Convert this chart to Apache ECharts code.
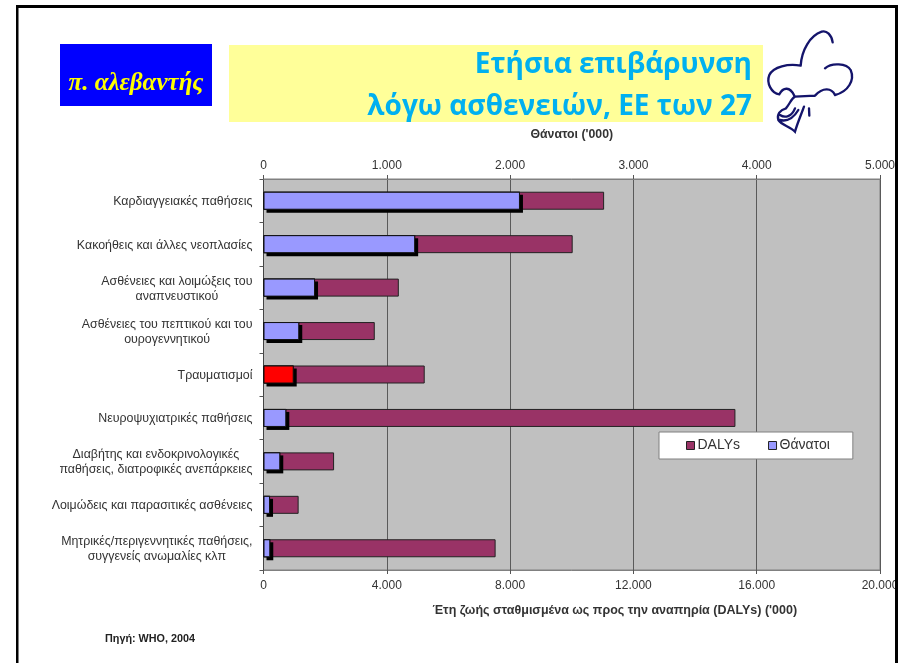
<!DOCTYPE html>
<html>
<head>
<meta charset="utf-8">
<style>html,body{margin:0;padding:0;background:#fff}#c{width:898px;height:663px}</style>
<script src="https://cdn.jsdelivr.net/npm/echarts@6/dist/echarts.min.js"></script>
</head>
<body>
<div id="c"></div>
<script>
const categories = [
  'Καρδιαγγειακές παθήσεις',
  'Κακοήθεις και άλλες νεοπλασίες',
  'Ασθένειες και λοιμώξεις του\nαναπνευστικού',
  'Ασθένειες του πεπτικού και του\nουρογεννητικού',
  'Τραυματισμοί',
  'Νευροψυχιατρικές παθήσεις',
  'Διαβήτης και ενδοκρινολογικές\nπαθήσεις, διατροφικές ανεπάρκειες',
  'Λοιμώδεις και παρασιτικές ασθένειες',
  'Μητρικές/περιγεννητικές παθήσεις,\nσυγγενείς ανωμαλίες κλπ'
];
const dalys = [11050, 10030, 4390, 3610, 5230, 15310, 2290, 1140, 7530];
const deaths = [2080, 1230, 418, 290, 245, 185, 136, 53, 55];
const highlighted = 'Τραυματισμοί';
const titleLines = ['Ετήσια επιβάρυνση', 'λόγω ασθενειών, ΕΕ των 27'];
const dalyName = 'DALYs';
const deathName = 'Θάνατοι';
const shadowName = 'Σκιά';
const dalyAxisTitle = "Έτη ζωής σταθμισμένα ως προς την αναπηρία (DALYs) ('000)";
const deathAxisTitle = "Θάνατοι ('000)";
const sourceText = 'Πηγή: WHO, 2004';
const brandText = 'π. αλεβαντής';

const FONT = '"Liberation Sans", Arial, sans-serif';
const fmt = v => String(v).replace(/\B(?=(\d{3})+$)/g, '.');
const AX = '#808080', TXT = '#333';
const logo = [
  'M218 52 C215 30 200 15 185 20 C150 32 125 75 122 122',
  'M122 122 C85 115 40 125 28 150 C18 175 35 205 58 208 C70 185 90 185 103 212',
  'M195 130 C215 112 260 115 272 135 C285 165 265 200 225 210 C215 190 190 185 165 212',
  'M165 212 L105 215 C95 220 90 235 78 250',
  'M78 250 C60 255 50 268 55 285 C65 300 90 305 105 320 C112 295 125 265 132 245',
  'M60 270 C75 280 95 275 105 250 M60 285 C80 290 100 280 115 255',
  'M147 250 L148 272'
].join(' ');
echarts.graphic.registerShape('logoPath', echarts.graphic.extendPath(logo));

const chart = echarts.init(document.getElementById('c'), null, {renderer: 'canvas'});
chart.setOption({
  animation: false,
  backgroundColor: '#fff',
  textStyle: {fontFamily: FONT},
  grid: {left: 263.5, top: 179, width: 616.5, height: 391, outerBoundsMode: 'none', show: true, backgroundColor: '#C0C0C0', borderColor: AX, borderWidth: 1},
  legend: {
    left: 659, top: 432, orient: 'horizontal',
    data: [dalyName, deathName],
    icon: 'rect', itemWidth: 8, itemHeight: 8, itemGap: 28,
    padding: [6.5, 23, 6.5, 27],
    backgroundColor: '#fff', borderColor: '#808080', borderWidth: 1,
    textStyle: {fontSize: 14, color: TXT, padding: [0, 0, 0, -2]},
    itemStyle: {borderWidth: 1, borderColor: '#222'}
  },
  xAxis: [
    {
      type: 'value', position: 'bottom', min: 0, max: 20000, interval: 4000,
      name: dalyAxisTitle, nameLocation: 'middle', nameGap: 34,
      nameTextStyle: {fontSize: 12.5, fontWeight: 'bold', color: TXT, padding: [0, 0, 0, 86]},
      axisLine: {show: true, lineStyle: {color: AX}},
      axisTick: {show: true, length: 4, lineStyle: {color: '#555'}},
      axisLabel: {fontSize: 12, color: TXT, margin: 10, formatter: fmt},
      splitLine: {show: true, lineStyle: {color: '#5a5a5a', width: 1}}
    },
    {
      type: 'value', position: 'top', min: 0, max: 5000, interval: 1000,
      name: deathAxisTitle, nameLocation: 'middle', nameGap: 38,
      nameTextStyle: {fontSize: 12.3, fontWeight: 'bold', color: TXT},
      axisLine: {show: true, lineStyle: {color: AX}},
      axisTick: {show: true, length: 4, lineStyle: {color: '#555'}},
      axisLabel: {fontSize: 12, color: TXT, margin: 7, formatter: fmt},
      splitLine: {show: false}
    }
  ],
  yAxis: {
    type: 'category', inverse: true, data: categories,
    axisLine: {show: true, lineStyle: {color: '#444'}},
    axisTick: {show: true, length: 4, alignWithLabel: false, lineStyle: {color: '#555'}},
    axisLabel: {
      interval: 0, margin: 11, color: TXT, fontSize: 12.4, lineHeight: 15, padding: [2, 0, 0, 0],
      formatter: v => v.split('\n').map(s => '{c|' + s + '}').join('\n'),
      rich: {c: {align: 'center', fontSize: 12.4, lineHeight: 15, color: TXT, fontFamily: FONT}}
    }
  },
  series: [
    {
      name: dalyName, type: 'bar', xAxisIndex: 0, yAxisIndex: 0,
      data: dalys, barWidth: 18, barGap: '-100%',
      itemStyle: {color: '#993366', borderColor: '#222', borderWidth: 1}
    },
    {
      name: shadowName, type: 'bar', xAxisIndex: 1, yAxisIndex: 0, silent: true,
      data: deaths, barWidth: 18, barGap: '-100%',
      itemStyle: {color: '#000', borderWidth: 0, shadowColor: '#000', shadowBlur: 0, shadowOffsetX: 3, shadowOffsetY: 3}
    },
    {
      name: deathName, type: 'bar', xAxisIndex: 1, yAxisIndex: 0,
      barWidth: 18, barGap: '-100%',
      data: deaths.map((v, i) => categories[i] === highlighted ? {value: v, itemStyle: {color: '#FF0000'}} : v),
      itemStyle: {color: '#9999FF', borderColor: '#111', borderWidth: 1}
    }
  ],
  graphic: [
    {type: 'rect', z: 1, shape: {x: 60, y: 44, width: 152, height: 62}, style: {fill: '#0000FF'}},
    {type: 'text', z: 2, style: {x: 136, y: 84, text: brandText, fill: '#FFFF00', align: 'center', verticalAlign: 'middle', font: 'italic bold 25px "Liberation Serif", serif'}},
    {type: 'rect', z: 1, shape: {x: 229, y: 45, width: 534, height: 77}, style: {fill: '#FFFF99'}},
    {type: 'text', z: 2, style: {x: 752, y: 65, text: titleLines[0], fill: '#00B0F0', align: 'right', verticalAlign: 'middle', font: 'bold 28px "Open Sans", sans-serif'}},
    {type: 'text', z: 2, style: {x: 752, y: 107, text: titleLines[1], fill: '#00B0F0', align: 'right', verticalAlign: 'middle', font: 'bold 28px "Open Sans", sans-serif'}},
    {type: 'text', z: 2, style: {x: 105, y: 639, text: sourceText, fill: '#222', align: 'left', verticalAlign: 'middle', font: 'bold 10.8px "Liberation Sans", sans-serif'}},
    {type: 'logoPath', z: 2, x: 760, y: 25, scaleX: 1 / 3, scaleY: 1 / 3, shape: {}, style: {fill: 'none', stroke: '#14146b', lineWidth: 7, lineCap: 'round'}},
    {type: 'rect', z: 100, shape: {x: 16, y: 5, width: 2.5, height: 658}, style: {fill: '#000'}},
    {type: 'rect', z: 100, shape: {x: 16, y: 5, width: 882, height: 3}, style: {fill: '#000'}},
    {type: 'rect', z: 100, shape: {x: 895, y: 5, width: 3, height: 658}, style: {fill: '#000'}}
  ]
});
</script>
</body>
</html>
